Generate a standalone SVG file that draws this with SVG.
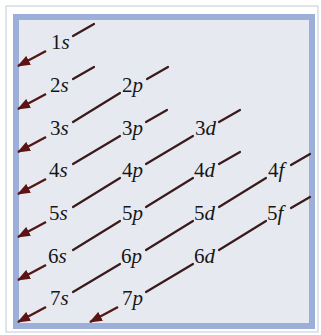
<svg xmlns="http://www.w3.org/2000/svg" width="321" height="335" viewBox="0 0 321 335">
<defs>
<style>
.lbl{font-family:"Liberation Serif","Times New Roman",serif;font-size:21px;fill:#161616}
.it{font-style:italic}
.seg{stroke:#3a1a1a;stroke-width:2.2;fill:none;stroke-linecap:round}
.arr{stroke:#551515;stroke-width:2.4;fill:none;marker-end:url(#ah)}
</style>
<marker id="ah" viewBox="0 0 13 10" refX="12" refY="5" markerWidth="13" markerHeight="10" markerUnits="userSpaceOnUse" orient="auto">
<path d="M0,0 L13,5 L0,10 Z" fill="#5a1414"/>
</marker>
</defs>
<rect x="0" y="0" width="321" height="335" fill="#ffffff"/>
<rect x="6" y="6" width="312" height="326" fill="none" stroke="#cdd2de" stroke-width="1.2"/>
<rect x="16" y="17" width="296" height="309" fill="#e7e9f1" stroke="#9cafd9" stroke-width="6"/>
<g id="connectors">
<line class="seg" x1="73" y1="36" x2="94" y2="24"/>
<line class="arr" x1="46" y1="51" x2="18" y2="66"/>
<line class="seg" x1="73" y1="79" x2="94" y2="67"/>
<line class="arr" x1="46" y1="94" x2="18" y2="109"/>
<line class="seg" x1="147" y1="79" x2="168" y2="67"/>
<line class="seg" x1="73" y1="122" x2="120" y2="93"/>
<line class="arr" x1="46" y1="137" x2="18" y2="152"/>
<line class="seg" x1="146" y1="122" x2="167" y2="110"/>
<line class="seg" x1="73" y1="164" x2="120" y2="136"/>
<line class="arr" x1="46" y1="179" x2="18" y2="194"/>
<line class="seg" x1="219" y1="122" x2="240" y2="110"/>
<line class="seg" x1="146" y1="164" x2="193" y2="136"/>
<line class="seg" x1="73" y1="207" x2="120" y2="178"/>
<line class="arr" x1="46" y1="222" x2="18" y2="237"/>
<line class="seg" x1="219" y1="164" x2="240" y2="152"/>
<line class="seg" x1="146" y1="207" x2="193" y2="178"/>
<line class="seg" x1="73" y1="250" x2="120" y2="221"/>
<line class="arr" x1="46" y1="265" x2="18" y2="280"/>
<line class="seg" x1="291" y1="165" x2="310" y2="154"/>
<line class="seg" x1="219" y1="207" x2="266" y2="178"/>
<line class="seg" x1="146" y1="250" x2="193" y2="221"/>
<line class="seg" x1="73" y1="292" x2="120" y2="264"/>
<line class="arr" x1="46" y1="307" x2="18" y2="322"/>
<line class="seg" x1="291" y1="208" x2="310" y2="197"/>
<line class="seg" x1="219" y1="250" x2="266" y2="221"/>
<line class="seg" x1="146" y1="292" x2="193" y2="264"/>
<line class="arr" x1="118" y1="307" x2="90" y2="322"/>
</g>
<g id="n1s"><text class="lbl" x="51" y="49">1<tspan class="it">s</tspan></text></g>
<g id="n2s"><text class="lbl" x="50" y="92">2<tspan class="it">s</tspan></text></g>
<g id="n2p"><text class="lbl" x="122" y="92">2<tspan class="it">p</tspan></text></g>
<g id="n3s"><text class="lbl" x="50" y="135">3<tspan class="it">s</tspan></text></g>
<g id="n3p"><text class="lbl" x="122" y="135">3<tspan class="it">p</tspan></text></g>
<g id="n3d"><text class="lbl" x="195" y="135">3<tspan class="it">d</tspan></text></g>
<g id="n4s"><text class="lbl" x="49" y="177">4<tspan class="it">s</tspan></text></g>
<g id="n4p"><text class="lbl" x="122" y="177">4<tspan class="it">p</tspan></text></g>
<g id="n4d"><text class="lbl" x="194" y="177">4<tspan class="it">d</tspan></text></g>
<g id="n4f"><text class="lbl" x="268" y="177">4<tspan class="it">f</tspan></text></g>
<g id="n5s"><text class="lbl" x="49" y="220">5<tspan class="it">s</tspan></text></g>
<g id="n5p"><text class="lbl" x="122" y="220">5<tspan class="it">p</tspan></text></g>
<g id="n5d"><text class="lbl" x="194" y="220">5<tspan class="it">d</tspan></text></g>
<g id="n5f"><text class="lbl" x="267" y="220">5<tspan class="it">f</tspan></text></g>
<g id="n6s"><text class="lbl" x="48" y="263">6<tspan class="it">s</tspan></text></g>
<g id="n6p"><text class="lbl" x="121" y="263">6<tspan class="it">p</tspan></text></g>
<g id="n6d"><text class="lbl" x="194" y="263">6<tspan class="it">d</tspan></text></g>
<g id="n7s"><text class="lbl" x="50" y="305">7<tspan class="it">s</tspan></text></g>
<g id="n7p"><text class="lbl" x="122" y="305">7<tspan class="it">p</tspan></text></g>
</svg>
